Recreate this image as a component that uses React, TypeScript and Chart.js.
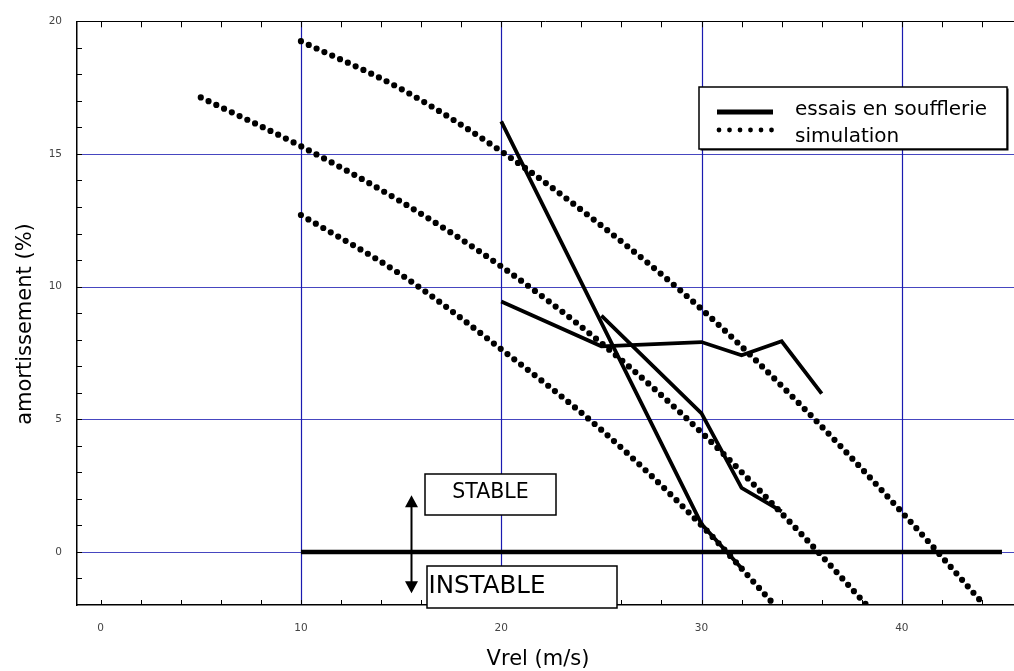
import React, { useEffect, useRef } from "react";
import { Chart, registerables } from "chart.js";

Chart.register(...registerables);

// ---- axis ticks ----
const xTickValues = [0, 10, 20, 30, 40];
const yTickValues = [0, 5, 10, 15, 20];
const xGridValues = [10, 20, 30, 40];
const yGridValues = [0, 5, 10, 15];
const xMinorTicks = [0, 2, 4, 6, 8, 10, 12, 14, 16, 18, 20, 22, 24, 26, 28, 30, 32, 34, 36, 38, 40, 42, 44];
const yMinorTicks = [-1, 0, 1, 2, 3, 4, 5, 6, 7, 8, 9, 10, 11, 12, 13, 14, 15, 16, 17, 18, 19];

// ---- simulation curves (dotted) ----
const simAX = [10, 15, 20, 25, 30, 35, 40, 44];
const simAY = [19.25, 17.45, 15.1, 12.3, 9.15, 5.5, 1.5, -1.9];
const simBX = [5, 10, 15, 20, 25, 30, 35, 38.2];
const simBY = [17.13, 15.29, 13.2, 10.76, 7.87, 4.5, 0.66, -1.97];
const simCX = [10, 15, 20, 25, 30, 33.5];
const simCY = [12.7, 10.45, 7.64, 4.6, 1.0, -1.88];

// ---- wind tunnel tests (solid) ----
const exp1X = [20, 30, 32.1];
const exp1Y = [16.23, 1.05, -0.7];
const exp2X = [20, 25, 30, 32, 34, 36];
const exp2Y = [9.44, 7.75, 7.91, 7.41, 7.94, 5.97];
const exp3X = [25, 30, 32, 34];
const exp3Y = [8.91, 5.22, 2.41, 1.53];

// ---- stability limit ----
const limitX = [10, 45];
const limitY = [0, 0];

// ---- texts ----
const legendLabels = ["essais en soufflerie", "simulation"];
const xTitle = "Vrel (m/s)";
const yTitle = "amortissement (%)";
const stableText = "STABLE";
const instableText = "INSTABLE";

const pts = (xs: number[], ys: number[]) => xs.map((x, i) => ({ x, y: ys[i] }));

const dotted = (xs: number[], ys: number[]) => ({
  data: pts(xs, ys),
  borderColor: "#000",
  borderWidth: 6.2,
  borderDash: [0, 8.6],
  borderCapStyle: "round" as const,
  pointRadius: 0,
  cubicInterpolationMode: "monotone" as const,
  fill: false,
});

const solid = (xs: number[], ys: number[], w = 3.8) => ({
  data: pts(xs, ys),
  borderColor: "#000",
  borderWidth: w,
  borderCapStyle: "butt" as const,
  borderJoinStyle: "miter" as const,
  pointRadius: 0,
  tension: 0,
  fill: false,
});

const gridPlugin = {
  id: "customGrid",
  beforeDatasetsDraw(chart: any) {
    const ctx = chart.ctx as CanvasRenderingContext2D;
    const xs = chart.scales.x;
    const ys = chart.scales.y;
    const { left, right, top, bottom } = chart.chartArea;
    ctx.save();
    ctx.lineWidth = 1.2;
    ctx.strokeStyle = "#4646c0";
    ctx.beginPath();
    yGridValues.forEach((v) => {
      const p = Math.round(ys.getPixelForValue(v)) + 0.5;
      ctx.moveTo(left, p);
      ctx.lineTo(right, p);
    });
    ctx.stroke();
    ctx.lineWidth = 1.2;
    ctx.strokeStyle = "#1a1ab0";
    ctx.beginPath();
    xGridValues.forEach((v) => {
      const p = Math.round(xs.getPixelForValue(v)) + 0.5;
      ctx.moveTo(p, top);
      ctx.lineTo(p, bottom);
    });
    ctx.stroke();
    // top frame line
    ctx.lineWidth = 1;
    ctx.strokeStyle = "#000";
    ctx.beginPath();
    const t = Math.round(ys.getPixelForValue(20)) + 0.5;
    ctx.moveTo(left, t);
    ctx.lineTo(right, t);
    ctx.stroke();
    ctx.restore();
  },
};

const decorPlugin = {
  id: "decor",
  afterDraw(chart: any) {
    const ctx = chart.ctx as CanvasRenderingContext2D;
    const xs = chart.scales.x;
    const ys = chart.scales.y;
    const { left, top, bottom } = chart.chartArea;
    ctx.save();

    // minor ticks
    ctx.strokeStyle = "#000";
    ctx.lineWidth = 1;
    ctx.beginPath();
    yMinorTicks.forEach((v) => {
      const p = Math.round(ys.getPixelForValue(v)) + 0.5;
      ctx.moveTo(left, p);
      ctx.lineTo(left + 5, p);
    });
    xMinorTicks.forEach((v) => {
      const p = Math.round(xs.getPixelForValue(v)) + 0.5;
      ctx.moveTo(p, bottom);
      ctx.lineTo(p, bottom - 5);
      ctx.moveTo(p, top);
      ctx.lineTo(p, top + 6);
    });
    ctx.stroke();

    // STABLE / INSTABLE boxes
    const box = (x0: number, y0: number, x1: number, y1: number) => {
      const px0 = Math.round(xs.getPixelForValue(x0));
      const px1 = Math.round(xs.getPixelForValue(x1));
      const py0 = Math.round(ys.getPixelForValue(y0));
      const py1 = Math.round(ys.getPixelForValue(y1));
      ctx.fillStyle = "#fff";
      ctx.fillRect(px0, py0, px1 - px0, py1 - py0);
      ctx.strokeStyle = "#000";
      ctx.lineWidth = 1.5;
      ctx.strokeRect(px0, py0, px1 - px0, py1 - py0);
      return { px0, px1, py0, py1 };
    };
    const sb = box(16.2, 2.95, 22.74, 1.38);
    ctx.fillStyle = "#000";
    ctx.font = "20.5px 'DejaVu Sans'";
    ctx.textAlign = "center";
    ctx.textBaseline = "alphabetic";
    ctx.fillText(stableText, (sb.px0 + sb.px1) / 2, sb.py1 - 17);

    const ib = box(16.28, -0.53, 25.78, -2.11);
    ctx.fillStyle = "#000";
    ctx.font = "24.5px 'DejaVu Sans'";
    ctx.textAlign = "left";
    ctx.fillText(instableText, ib.px0 + 1.5, ib.py1 - 15);

    // double arrow
    const ax = Math.round(xs.getPixelForValue(15.48)) + 0.5;
    const aTop = ys.getPixelForValue(2.14);
    const aBot = ys.getPixelForValue(-1.56);
    ctx.strokeStyle = "#000";
    ctx.lineWidth = 2;
    ctx.beginPath();
    ctx.moveTo(ax, aTop + 10);
    ctx.lineTo(ax, aBot - 10);
    ctx.stroke();
    ctx.beginPath();
    ctx.moveTo(ax, aTop);
    ctx.lineTo(ax - 6.5, aTop + 12);
    ctx.lineTo(ax + 6.5, aTop + 12);
    ctx.closePath();
    ctx.moveTo(ax, aBot);
    ctx.lineTo(ax - 6.5, aBot - 12);
    ctx.lineTo(ax + 6.5, aBot - 12);
    ctx.closePath();
    ctx.fill();

    // legend
    const lx = 699, ly = 87, lw = 308, lh = 62;
    ctx.fillStyle = "#000";
    ctx.fillRect(lx + 1.5, ly + 1.5, lw, lh);
    ctx.fillStyle = "#fff";
    ctx.fillRect(lx, ly, lw, lh);
    ctx.strokeStyle = "#000";
    ctx.lineWidth = 1.5;
    ctx.strokeRect(lx, ly, lw, lh);
    ctx.lineWidth = 5;
    ctx.beginPath();
    ctx.moveTo(717, 112);
    ctx.lineTo(773, 112);
    ctx.stroke();
    ctx.lineWidth = 4.8;
    ctx.lineCap = "round";
    ctx.setLineDash([0, 10.5]);
    ctx.beginPath();
    ctx.moveTo(719, 130);
    ctx.lineTo(773, 130);
    ctx.stroke();
    ctx.setLineDash([]);
    ctx.lineCap = "butt";
    ctx.fillStyle = "#000";
    ctx.font = "20px 'DejaVu Sans'";
    ctx.textAlign = "left";
    ctx.fillText(legendLabels[0], 795, 115);
    ctx.fillText(legendLabels[1], 795, 141.5);

    // axis titles
    ctx.font = "21px 'DejaVu Sans'";
    ctx.textAlign = "center";
    ctx.fillText(xTitle, 538, 665);
    ctx.save();
    ctx.translate(31, 324);
    ctx.rotate(-Math.PI / 2);
    ctx.fillText(yTitle, 0, 0);
    ctx.restore();

    ctx.restore();
  },
};

export default function App() {
  const ref = useRef<HTMLCanvasElement | null>(null);
  useEffect(() => {
    document.body.style.margin = "0";
    const canvas = ref.current;
    if (!canvas) return;
    const tickFont = { family: "DejaVu Sans", size: 10.5 };
    const chart = new Chart(canvas, {
      type: "line",
      data: {
        datasets: [
          dotted(simAX, simAY),
          dotted(simBX, simBY),
          dotted(simCX, simCY),
          solid(exp1X, exp1Y),
          solid(exp2X, exp2Y),
          solid(exp3X, exp3Y),
          solid(limitX, limitY, 4.5),
        ] as any,
      },
      options: {
        animation: false,
        responsive: false,
        devicePixelRatio: 1,
        layout: { padding: { top: 20, right: 0, left: 0, bottom: 0 } },
        plugins: { legend: { display: false }, tooltip: { enabled: false } },
        scales: {
          x: {
            type: "linear",
            min: -1.18,
            max: 45.6,
            afterBuildTicks: (s: any) => {
              s.ticks = xTickValues.map((v) => ({ value: v }));
            },
            afterFit: (s: any) => {
              s.height = 66;
            },
            ticks: { font: tickFont, color: "#444", padding: 17, maxRotation: 0 },
            grid: { drawTicks: false, lineWidth: 1, color: "rgba(0,0,0,0)" },
            border: { display: true, color: "#000", width: 1.5 },
          },
          y: {
            type: "linear",
            min: -2,
            max: 20,
            afterBuildTicks: (s: any) => {
              s.ticks = yTickValues.map((v) => ({ value: v }));
            },
            afterFit: (s: any) => {
              s.width = 77;
            },
            ticks: { font: tickFont, color: "#444", padding: 15 },
            grid: { drawTicks: false, lineWidth: 1, color: "rgba(0,0,0,0)" },
            border: { display: true, color: "#000", width: 1.5 },
          },
        },
      } as any,
      plugins: [gridPlugin, decorPlugin],
    });
    return () => chart.destroy();
  }, []);
  return (
    <div style={{ width: 1014, height: 671, position: "relative", background: "#fff" }}>
      <canvas ref={ref} width={1014} height={671} style={{ width: 1014, height: 671, display: "block" }} />
    </div>
  );
}
